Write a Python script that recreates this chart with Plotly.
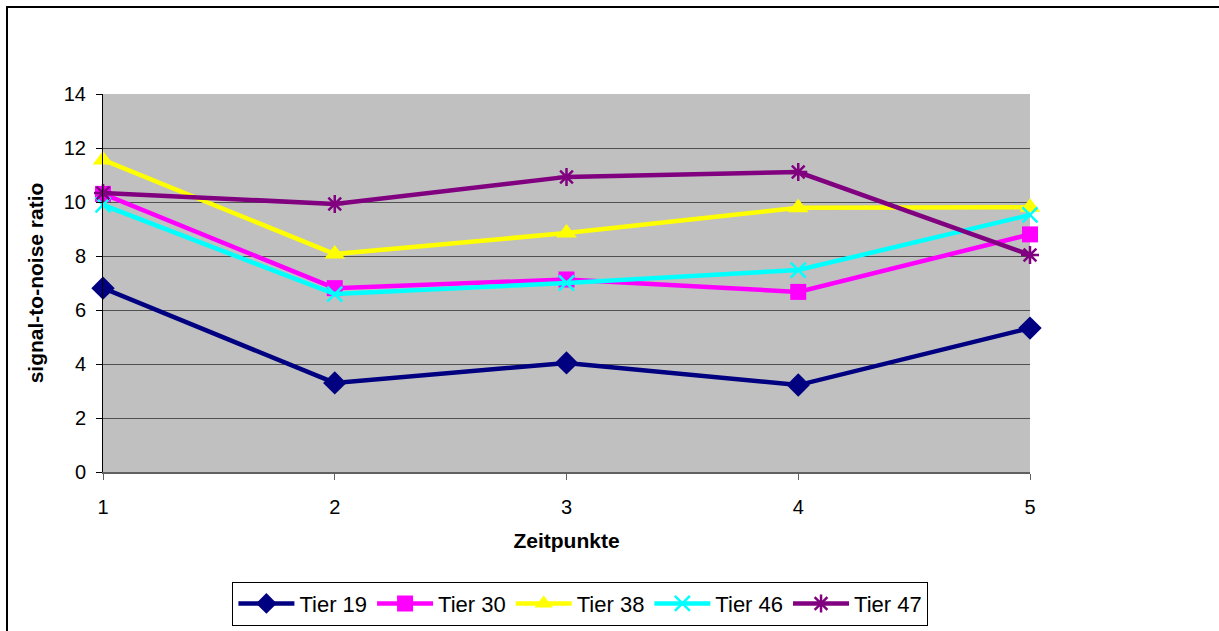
import plotly.graph_objects as go

zeitpunkte = [1, 2, 3, 4, 5]
tier_19 = [6.81, 3.30, 4.04, 3.22, 5.33]
tier_30 = [10.30, 6.81, 7.13, 6.67, 8.80]
tier_38 = [11.56, 8.07, 8.85, 9.79, 9.81]
tier_46 = [9.89, 6.59, 7.00, 7.48, 9.52]
tier_47 = [10.33, 9.93, 10.93, 11.11, 8.04]
y_ticks = [0, 2, 4, 6, 8, 10, 12, 14]

series = [
    ("Tier 19", tier_19, "#000080", "diamond", 18, 0),
    ("Tier 30", tier_30, "#FF00FF", "square", 16, 0),
    ("Tier 38", tier_38, "#FFFF00", "triangle-up", 18, 0),
    ("Tier 46", tier_46, "#00FFFF", "x-thin-open", 15, 2.5),
    ("Tier 47", tier_47, "#800080", "asterisk-open", 15, 2.5),
]

fig = go.Figure()
for name, vals, color, symbol, size, mlw in series:
    marker = dict(symbol=symbol, size=size, color=color)
    if mlw:
        marker["line"] = dict(color=color, width=mlw)
    else:
        marker["line"] = dict(width=0)
    fig.add_trace(go.Scatter(
        x=zeitpunkte, y=vals, name=name, mode="lines+markers",
        line=dict(color=color, width=4.5), marker=marker, cliponaxis=False,
    ))

font = "Liberation Sans, Arial, sans-serif"
fig.update_layout(
    width=1219, height=631,
    margin=dict(l=103, r=189, t=94, b=159, autoexpand=False),
    paper_bgcolor="white",
    plot_bgcolor="#C0C0C0",
    font=dict(family=font, size=20, color="black"),
    showlegend=True,
    legend=dict(
        orientation="h", x=0.515, xanchor="center", y=-0.29, yanchor="top",
        bordercolor="black", borderwidth=1, bgcolor="white",
        font=dict(family=font, size=22), itemwidth=56,
    ),
    xaxis=dict(
        range=[1, 5], tickvals=zeitpunkte, ticks="outside", ticklen=6,
        tickcolor="#606060", showgrid=False, zeroline=False,
        showline=True, linecolor="#606060", linewidth=1.5,
        ticklabelstandoff=10,
        title=dict(text="<b>Zeitpunkte</b>", font=dict(size=21), standoff=17),
    ),
    yaxis=dict(
        range=[0, 14], tickvals=y_ticks, ticks="outside", ticklen=6,
        tickcolor="black", showgrid=True, gridcolor="#505050", gridwidth=1,
        zeroline=False, showline=True, linecolor="black", linewidth=1,
        ticklabelstandoff=6,
        title=dict(text="<b>signal-to-noise ratio</b>", font=dict(size=21), standoff=14),
    ),
)

# Outer frame around the chart area (open to the right and bottom)
fig.add_shape(type="rect", xref="paper", yref="paper",
              x0=(7 - 103) / 927, x1=1.4, y0=-0.6, y1=(472 - 7) / 378,
              line=dict(color="black", width=2), fillcolor="rgba(0,0,0,0)", layer="below")

fig.write_html("out.html")
